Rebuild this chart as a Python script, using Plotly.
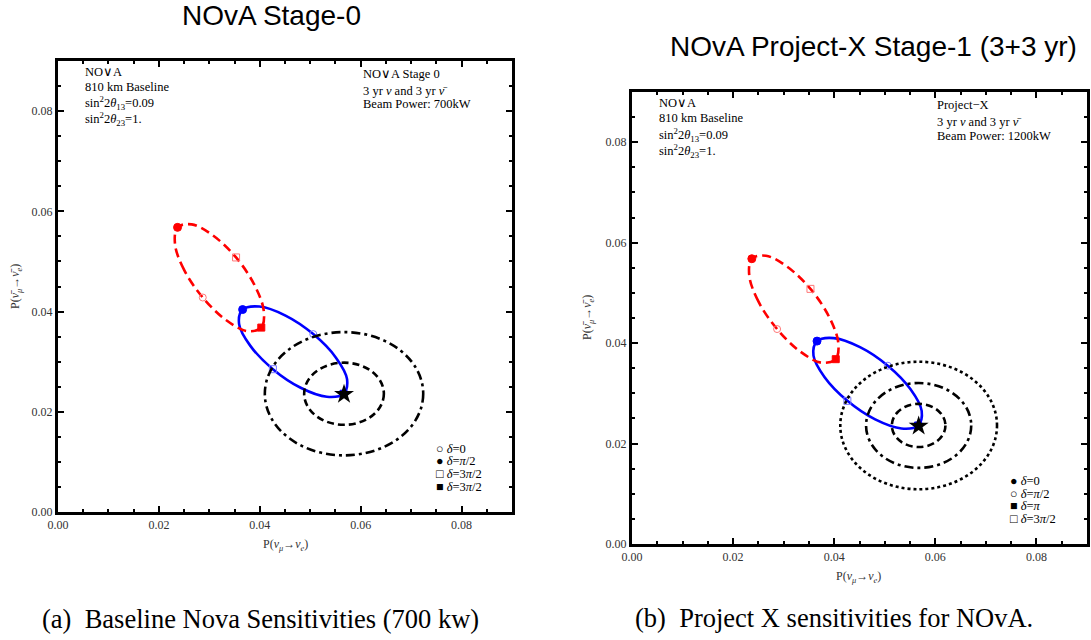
import plotly.graph_objects as go

W, H = 1091, 640

# ---------------- data ----------------
delta_deg = [0, 30, 60, 90, 120, 150, 180, 210, 240, 270, 300, 330]
# normal hierarchy (blue solid) : P(nu_mu->nu_e), P(nubar_mu->nubar_e)
nh_p = [0.0506, 0.0451, 0.0399, 0.0366, 0.0359, 0.0381, 0.0426, 0.0481, 0.0533, 0.0566, 0.0573, 0.0551]
nh_pbar = [0.0355, 0.0392, 0.0410, 0.0404, 0.0375, 0.0332, 0.0285, 0.0248, 0.0230, 0.0236, 0.0265, 0.0308]
# inverted hierarchy (red dashed)
ih_p = [0.0287, 0.0250, 0.0232, 0.0237, 0.0265, 0.0307, 0.0353, 0.0390, 0.0408, 0.0403, 0.0375, 0.0333]
ih_pbar = [0.0428, 0.0483, 0.0534, 0.0568, 0.0574, 0.0552, 0.0508, 0.0452, 0.0401, 0.0368, 0.0361, 0.0383]

true_p = 0.0567
true_pbar = 0.0235

# sensitivity contours (centre, half-widths)
cont_cx, cont_cy = 0.0567, 0.0236
stage0_rx = [0.0079, 0.0157]
stage0_ry = [0.0062, 0.0123]
stage0_dash = ["7px,4px", "9px,4px,3px,4px"]
px_rx = [0.0053, 0.0104, 0.0155]
px_ry = [0.0043, 0.00845, 0.0127]
px_dash = ["7px,4px", "9px,4px,3px,4px", "3px,3px"]

tick_vals = [0.0, 0.02, 0.04, 0.06, 0.08]
tick_text = ["0.00", "0.02", "0.04", "0.06", "0.08"]

SERIF = "Liberation Serif"
SANS = "Liberation Sans"

def pxx(x):
    return x / W

def pyy(y):
    return 1 - y / H

fig = go.Figure()

def add_panel(xa, ya):
    fig.add_trace(go.Scatter(x=nh_p + nh_p[:1], y=nh_pbar + nh_pbar[:1], mode="lines",
                             line=dict(color="#0000ff", width=2.6, shape="spline"),
                             xaxis=xa, yaxis=ya, showlegend=False, hoverinfo="skip"))
    fig.add_trace(go.Scatter(x=ih_p + ih_p[:1], y=ih_pbar + ih_pbar[:1], mode="lines",
                             line=dict(color="#ff0000", width=2.6, dash="9px,5px", shape="spline"),
                             xaxis=xa, yaxis=ya, showlegend=False, hoverinfo="skip"))
    idx = [delta_deg.index(d) for d in (0, 90, 180, 270)]
    syms = ["circle-open", "circle", "square-open", "square"]
    sizes = [7, 8, 7, 7]
    for col, light, xs, ys in (("#0000ff", "#7777ff", nh_p, nh_pbar),
                               ("#ff0000", "#ff7777", ih_p, ih_pbar)):
        for k, i in enumerate(idx):
            c = light if "open" in syms[k] else col
            fig.add_trace(go.Scatter(x=[xs[i]], y=[ys[i]], mode="markers",
                                     marker=dict(symbol=syms[k], size=sizes[k], color=c,
                                                 line=dict(width=1, color=c)),
                                     xaxis=xa, yaxis=ya, showlegend=False, hoverinfo="skip"))
    fig.add_trace(go.Scatter(x=[true_p], y=[true_pbar], mode="markers",
                             marker=dict(symbol="star", size=15, color="black",
                                         line=dict(width=0)),
                             xaxis=xa, yaxis=ya, showlegend=False, hoverinfo="skip"))

add_panel("x", "y")
add_panel("x2", "y2")

for rx, ry, dsh in zip(stage0_rx, stage0_ry, stage0_dash):
    fig.add_shape(type="circle", xref="x", yref="y",
                  x0=cont_cx - rx, x1=cont_cx + rx, y0=cont_cy - ry, y1=cont_cy + ry,
                  line=dict(color="black", width=2.6, dash=dsh), layer="above")
for rx, ry, dsh in zip(px_rx, px_ry, px_dash):
    fig.add_shape(type="circle", xref="x2", yref="y2",
                  x0=cont_cx - rx, x1=cont_cx + rx, y0=cont_cy - ry, y1=cont_cy + ry,
                  line=dict(color="black", width=2.6, dash=dsh), layer="above")

axis_common = dict(range=[0, 0.09], showgrid=False, zeroline=False, showline=True,
                   automargin=False,
                   linecolor="black", linewidth=3, mirror="allticks",
                   ticks="inside", ticklen=6, tickwidth=2, tickcolor="black",
                   tickvals=tick_vals, ticktext=tick_text,
                   tickfont=dict(family=SERIF, size=12, color="#333333"),
                   minor=dict(ticks="inside", ticklen=3, tickwidth=1.5, tickcolor="black",
                              dtick=0.005, tick0=0, showgrid=False))

fig.update_layout(
    template="none",
    width=W, height=H, margin=dict(l=0, r=0, t=0, b=0, autoexpand=False),
    paper_bgcolor="white", plot_bgcolor="white", showlegend=False,
    xaxis=dict(domain=[pxx(58), pxx(512)], anchor="y", **axis_common),
    yaxis=dict(domain=[pyy(512), pyy(61)], anchor="x", **axis_common),
    xaxis2=dict(domain=[pxx(632), pxx(1087)], anchor="y2", **axis_common),
    yaxis2=dict(domain=[pyy(544), pyy(92)], anchor="x2", **axis_common),
)

ann = []

def text(x, y, s, size=12.5, family=SERIF, xanchor="left", angle=0, color="black"):
    ann.append(dict(x=pxx(x), y=pyy(y), xref="paper", yref="paper", text=s, showarrow=False,
                    xanchor=xanchor, yanchor="middle", textangle=angle,
                    font=dict(family=family, size=size, color=color)))

# titles
text(180, 15, "NOvA Stage-0", size=28, family=SANS)
text(668, 46, "NOvA Project-X Stage-1 (3+3 yr)", size=28, family=SANS)
# captions
text(40, 619, "(a)  Baseline Nova Sensitivities (700 kw)", size=26.5)
text(633, 618, "(b)  Project X sensitivities for NOvA.", size=26.5)

info_lines = ["NO∨A", "810 km Baseline",
              "sin<sup>2</sup>2<i>θ</i><sub>13</sub>=0.09",
              "sin<sup>2</sup>2<i>θ</i><sub>23</sub>=1."]
for s, y in zip(info_lines, [72, 87, 103, 119]):
    text(83, y, s)
for s, y in zip(info_lines, [103, 118, 135, 151]):
    text(657, y, s)
for s, y in zip(["NO∨A Stage 0", "3 yr <i>ν</i> and 3 yr <i>ν̄</i>", "Beam Power: 700kW"], [74, 91, 104]):
    text(361, y, s)
for s, y in zip(["Project−X", "3 yr <i>ν</i> and 3 yr <i>ν̄</i>", "Beam Power: 1200kW"], [105, 122, 136]):
    text(935, y, s)

leg_a = ["○ <i>δ</i>=0", "● <i>δ</i>=<i>π</i>/2", "□ <i>δ</i>=3<i>π</i>/2", "■ <i>δ</i>=3<i>π</i>/2"]
for s, y in zip(leg_a, [449, 461, 474, 487]):
    text(434, y, s, size=12.5)
leg_b = ["● <i>δ</i>=0", "○ <i>δ</i>=<i>π</i>/2", "■ <i>δ</i>=<i>π</i>", "□ <i>δ</i>=3<i>π</i>/2"]
for s, y in zip(leg_b, [481, 494, 506, 519]):
    text(1008, y, s, size=12.5)

xt = "P(<i>ν</i><sub><i>μ</i></sub>→<i>ν</i><sub><i>e</i></sub>)"
yt = "P(<i>ν̄</i><sub><i>μ</i></sub>→<i>ν̄</i><sub><i>e</i></sub>)"
text(285, 545, xt, size=12, xanchor="center", color="#333333")
text(858, 577, xt, size=12, xanchor="center", color="#333333")
text(16, 287, yt, size=12, xanchor="center", angle=-90, color="#333333")
text(588, 318, yt, size=12, xanchor="center", angle=-90, color="#333333")

fig.update_layout(annotations=ann)
fig.write_html("out.html", config={"displayModeBar": False},
               post_script="document.body.style.margin='0';document.body.style.overflow='hidden';")
